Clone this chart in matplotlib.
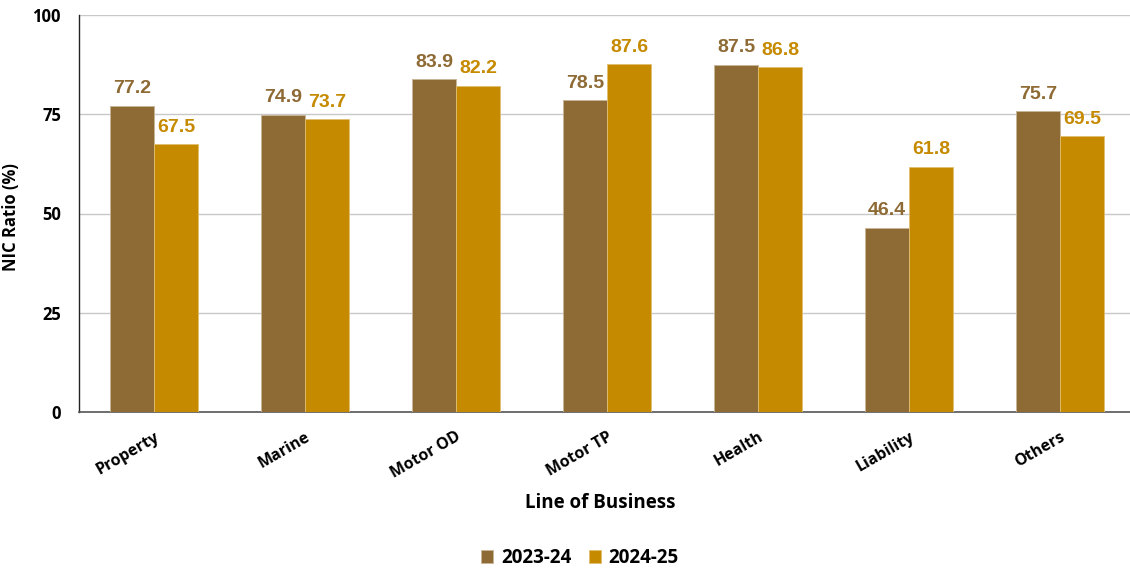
import matplotlib
matplotlib.use("Agg")
import matplotlib.pyplot as plt
import numpy as np

categories = ["Property", "Marine", "Motor OD", "Motor TP", "Health", "Liability", "Others"]
fy2023_24 = [77.2, 74.9, 83.9, 78.5, 87.5, 46.4, 75.7]
fy2024_25 = [67.5, 73.7, 82.2, 87.6, 86.8, 61.8, 69.5]
series_names = ["2023-24", "2024-25"]
yticks = [0, 25, 50, 75, 100]

c1 = "#8E6A34"
c2 = "#C68A00"
ui_font = "Open Sans"

fig = plt.figure(figsize=(11.3, 5.69), dpi=100)
ax = fig.add_axes([79 / 1130, 1 - 412 / 569, 1 - 79 / 1130, 397 / 569])

x = np.arange(len(categories))
w = 0.29
b1 = ax.bar(x - w / 2, fy2023_24, w, color=c1, edgecolor="#c9b596", linewidth=0.6,
            label=series_names[0], zorder=3)
b2 = ax.bar(x + w / 2, fy2024_25, w, color=c2, edgecolor="#e0bf70", linewidth=0.6,
            label=series_names[1], zorder=3)

label_font = dict(family="Liberation Sans", fontsize=14, fontweight="bold")
for bars, vals, col in ((b1, fy2023_24, c1), (b2, fy2024_25, c2)):
    for r, v in zip(bars, vals):
        ax.annotate(f"{v:.1f}", (r.get_x() + r.get_width() / 2, v),
                    xytext=(0, 6), textcoords="offset points",
                    ha="center", va="bottom", color=col, **label_font)

ax.set_ylim(0, 100)
ax.set_xlim(-0.497, -0.497 + 1051 / 151)
ax.set_yticks(yticks)
ax.set_yticklabels([str(t) for t in yticks], family=ui_font, fontweight="bold", fontsize=12)
ax.yaxis.grid(True, color="#c8c8c8", linewidth=1.0, zorder=0)
ax.set_axisbelow(True)
ax.tick_params(axis="both", length=0)
ax.tick_params(axis="y", pad=13)

ax.set_xticks(x)
ax.set_xticklabels(categories, rotation=30, ha="right", rotation_mode="anchor",
                   family=ui_font, fontweight="bold", fontsize=11.5)
ax.tick_params(axis="x", pad=12)

for s in ("top", "right"):
    ax.spines[s].set_visible(False)
ax.spines["left"].set_color("#222222")
ax.spines["bottom"].set_color("#555555")
ax.spines["left"].set_linewidth(1.0)
ax.spines["bottom"].set_linewidth(1.2)

ax.set_ylabel("NIC Ratio (%)", family=ui_font, fontweight="bold", fontsize=12)
ax.yaxis.set_label_coords(-(79 - 20) / 1051, (412 - 217) / 397)
fig.text(600 / 1130, 1 - 503 / 569, "Line of Business", ha="center", va="center",
         family=ui_font, fontweight="bold", fontsize=13.5)

leg = fig.legend(handles=[b1, b2], labels=series_names, loc="center",
                 bbox_to_anchor=(580 / 1130, 1 - 558 / 569), ncol=2, frameon=False,
                 prop=dict(family=ui_font, weight="bold", size=13.5),
                 handlelength=0.65, handleheight=0.65, handletextpad=0.4, columnspacing=0.95)

fig.savefig("out.png", dpi=100)
